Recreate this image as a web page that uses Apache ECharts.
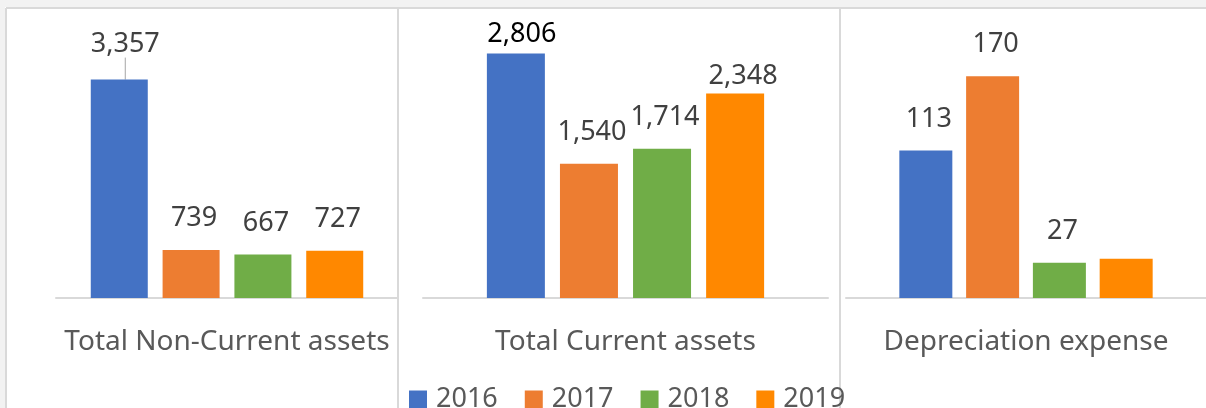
<!DOCTYPE html>
<html>
<head>
  <meta charset="utf-8">
  <script src="https://cdn.jsdelivr.net/npm/echarts@6/dist/echarts.min.js"></script>
  <style>
    html, body { margin: 0; padding: 0; background: #fff; }
  </style>
</head>
<body>
  <div id="chart" style="width: 1206px; height: 408px;"></div>
  <script>
    // chart data
    const categories = ['Total Non-Current assets', 'Total Current assets', 'Depreciation expense'];
    const years = ['2016', '2017', '2018', '2019'];
    const nonCurrentAssets = [3357, 739, 667, 727];
    const currentAssets = [2806, 1540, 1714, 2348];
    const depreciationExpense = [113, 170, 27, 30];

    const panelValues = [nonCurrentAssets, currentAssets, depreciationExpense];
    const colors = ['#4472C4', '#ED7D31', '#70AD47', '#FF8800'];
    const font = 'Noto Sans';

    // each panel has its own scale, like three small charts side by side
    const grids = [
      { left: 56, right: 808, top: 28, bottom: 110 },
      { left: 423, right: 378, top: 28, bottom: 110 },
      { left: 846, right: -4, top: 28, bottom: 110 }
    ];
    const yMax = [4150, 3100, 207];
    const barWidths = [57, 58, 53];

    let chart = echarts.init(document.getElementById('chart'));

    let xAxis = categories.map((name, i) => ({
      type: 'category',
      gridIndex: i,
      data: [name],
      axisLine: { lineStyle: { color: '#d9d9d9', width: 2 } },
      axisTick: { show: false },
      axisLabel: { color: '#595959', fontFamily: font, fontSize: 28, margin: 30 }
    }));

    let yAxis = categories.map((name, i) => ({
      type: 'value',
      gridIndex: i,
      min: 0,
      max: yMax[i],
      show: false
    }));

    let series = [];
    panelValues.forEach((values, p) => {
      values.forEach((v, y) => {
        let label = {
          show: true,
          position: 'top',
          distance: 18,
          offset: [3, 0],
          color: '#404040',
          fontFamily: font,
          fontSize: 27,
          formatter: (d) => d.value.toLocaleString('en-US')
        };
        let s = {
          type: 'bar',
          name: years[y],
          xAxisIndex: p,
          yAxisIndex: p,
          data: [v],
          barWidth: barWidths[p],
          barGap: '26%',
          itemStyle: { color: colors[y] },
          label: label
        };
        // labels that were moved by hand in the original
        if (p === 0 && y === 0) {
          s.labelLayout = { dx: 6, dy: -4 };
          s.labelLine = { show: true, lineStyle: { color: '#a6a6a6', width: 1 } };
        }
        if (p === 1 && y === 0) {
          label.offset = [6, 12];
          label.color = '#000';
        }
        if (p === 1 && y === 3) {
          label.offset = [8, 14];
        }
        if (p === 2 && y === 3) {
          label.show = false;
        }
        series.push(s);
      });
    });

    let option = {
      backgroundColor: '#fff',
      animation: false,
      grid: grids,
      xAxis: xAxis,
      yAxis: yAxis,
      legend: {
        data: years,
        icon: 'rect',
        itemWidth: 18,
        itemHeight: 18,
        itemGap: 27,
        left: 409,
        top: 386,
        padding: 0,
        textStyle: { color: '#595959', fontFamily: font, fontSize: 27, padding: [0, 0, 0, 4] }
      },
      graphic: [
        { type: 'rect', shape: { x: 0, y: 0, width: 1206, height: 7 }, style: { fill: '#f2f2f2' }, silent: true },
        { type: 'rect', shape: { x: 0, y: 0, width: 5, height: 408 }, style: { fill: '#f2f2f2' }, silent: true },
        { type: 'line', shape: { x1: 6, y1: 8, x2: 1206, y2: 8 }, style: { stroke: '#d9d9d9', lineWidth: 2 }, silent: true },
        { type: 'line', shape: { x1: 6, y1: 8, x2: 6, y2: 408 }, style: { stroke: '#d9d9d9', lineWidth: 2 }, silent: true },
        { type: 'line', shape: { x1: 398, y1: 8, x2: 398, y2: 408 }, style: { stroke: '#d9d9d9', lineWidth: 2 }, silent: true },
        { type: 'line', shape: { x1: 840, y1: 8, x2: 840, y2: 408 }, style: { stroke: '#d9d9d9', lineWidth: 2 }, silent: true }
      ],
      series: series
    };
    chart.setOption(option, true);
  </script>
</body>
</html>
